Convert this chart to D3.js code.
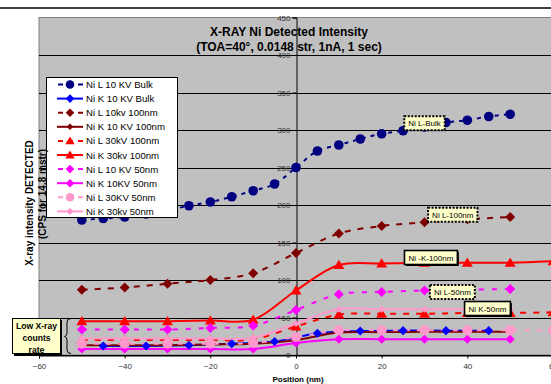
<!DOCTYPE html>
<html>
<head>
<meta charset="utf-8">
<script src="https://cdn.jsdelivr.net/npm/d3@7"></script>
<style>
  html, body { margin: 0; padding: 0; background: #fff; }
  svg { display: block; font-family: Arial, "Liberation Sans", sans-serif; }
</style>
</head>
<body>
<svg id="chart" width="551" height="384"></svg>
<script>
// Positions (nm) at which each profile was sampled
const posStep10 = [-50, -40, -30, -20, -10, 0, 10, 20, 30, 40, 50];
const posStep10Ext = [-50, -40, -30, -20, -10, 0, 10, 20, 30, 40, 50, 60];
const posStep5 = [-50, -45, -40, -35, -30, -25, -20, -15, -10, -5, 0, 5, 10, 15, 20, 25, 30, 35, 40, 45, 50];
const posOffset5 = [-45, -35, -25, -15, -5, 5, 15, 25, 35, 45];

// Detected intensities (CPS)
const niL10kvBulk   = [180, 182, 184, 188, 193, 199, 204, 211, 219, 228, 250, 272, 280, 288, 295, 299, 304, 310, 313, 318, 321];
const niK10kvBulk   = [12, 12, 13, 15, 18, 29, 32, 32.5, 32.5, 32.5];
const niL10kv100nm  = [87, 90, 95, 100, 109, 136, 162, 172, 177, 181, 184];
const niK10kv100nm  = [13, 13, 13, 14, 15, 20, 30, 30.5, 31, 31, 31];
const niL30kv100nm  = [20, 20, 20, 20, 21, 38, 54, 55, 55, 56, 56, 57];
const niK30kv100nm  = [45, 45, 45, 46, 47, 86, 120, 122, 123, 123, 123, 125];
const niL10kv50nm   = [34, 34, 34, 36, 39, 60, 81, 84, 86, 87, 88];
const niK10kv50nm   = [8, 8, 8, 8, 8, 16, 21, 21, 21, 21, 21];
const niL30kv50nm   = [15, 15, 15, 15, 16, 24, 33, 33, 33, 33, 33, 33];
const niK30kv50nm   = [22, 22, 22, 22, 23, 42, 61, 61, 61, 61, 61];

const seriesNames = [
  "Ni L 10 KV Bulk", "Ni K 10 KV Bulk", "Ni L 10kv 100nm", "Ni K 10 KV 100nm",
  "Ni L 30kV 100nm", "Ni K 30kv 100nm", "Ni L 10 KV 50nm", "Ni K 10KV 50nm",
  "Ni L 30KV 50nm", "Ni K 30kv 50nm"
];

const xTicks = [-60, -40, -20, 0, 20, 40, 60];
const yTicks = [0, 50, 100, 150, 200, 250, 300, 350, 400, 450];

const titleLines = ["X-RAY Ni Detected Intensity", "(TOA=40°, 0.0148 str, 1nA, 1 sec)"];
const yTitleLines = ["X-ray intensity DETECTED", "(CPS for 14.8 mstr)"];
const xTitle = "Position (nm)";

// Series styling
const series = [
  { x: posStep5,      y: niL10kvBulk,  color: "#000080", dash: "4,5", marker: "circle",   r: 4.8 },
  { x: posOffset5,    y: niK10kvBulk,  color: "#0000ff", dash: null,  marker: "diamond",  r: 4.6 },
  { x: posStep10,     y: niL10kv100nm, color: "#800000", dash: "6,7", marker: "diamond",  r: 5 },
  { x: posStep10,     y: niK10kv100nm, color: "#800000", dash: null,  marker: "diamond",  r: 3.2 },
  { x: posStep10Ext,  y: niL30kv100nm, color: "#ff0000", dash: "6,7", marker: "triangle", r: 5 },
  { x: posStep10Ext,  y: niK30kv100nm, color: "#ff0000", dash: null,  marker: "triangle", r: 5 },
  { x: posStep10,     y: niL10kv50nm,  color: "#ff00ff", dash: "5,8", marker: "diamond",  r: 5 },
  { x: posStep10,     y: niK10kv50nm,  color: "#ff00ff", dash: null,  marker: "diamond",  r: 4.6 },
  { x: posStep10Ext,  y: niL30kv50nm,  color: "#ff99cc", dash: "5,7", marker: "circle",   r: 5 },
  { x: posStep10,     y: niK30kv50nm,  color: "#ff99cc", dash: null,  marker: "diamond",  r: 3.6 }
].map((s, i) => ({ ...s, name: seriesNames[i], points: s.x.map((xv, j) => [xv, s.y[j]]) }));

const svg = d3.select("#chart");
const W = 551, H = 384;
const plot = { left: 39, right: 553, top: 17.5, bottom: 355 };

const x = d3.scaleLinear().domain([-60, 60]).range([plot.left, plot.right]);
const y = d3.scaleLinear().domain([0, 450]).range([plot.bottom, plot.top]);

function markerPath(type, r) {
  if (type === "circle") return d3.symbol(d3.symbolCircle, Math.PI * r * r)();
  if (type === "diamond") return `M0,${-r}L${r},0L0,${r}L${-r},0Z`;
  return `M0,${-r * 1.05}L${r * 1.1},${r * 0.8}L${-r * 1.1},${r * 0.8}Z`;
}

// page rule at the top
svg.append("line").attr("x1", 0).attr("x2", W).attr("y1", 8).attr("y2", 8)
  .attr("stroke", "#000").attr("stroke-width", 1.5);

// plot area
svg.append("defs").append("clipPath").attr("id", "plotClip")
  .append("rect").attr("x", plot.left).attr("y", plot.top - 6)
  .attr("width", W - plot.left).attr("height", plot.bottom - plot.top + 12);

svg.append("rect").attr("x", plot.left).attr("y", plot.top)
  .attr("width", W - plot.left + 2).attr("height", plot.bottom - plot.top)
  .attr("fill", "#c0c0c0").attr("stroke", "#808080").attr("stroke-width", 1);

// horizontal gridlines
svg.append("g").selectAll("line").data(yTicks.filter(t => t < 450)).join("line")
  .attr("x1", plot.left).attr("x2", W)
  .attr("y1", d => Math.round(y(d)) + 0.5).attr("y2", d => Math.round(y(d)) + 0.5)
  .attr("stroke", "#000").attr("stroke-width", 1);

// y axis drawn at position 0
const yAxis = d3.axisLeft(y).tickValues(yTicks).tickSize(4).tickPadding(2);
const yAxisG = svg.append("g").attr("transform", `translate(${Math.round(x(0)) + 0.5},0)`).call(yAxis);
yAxisG.select(".domain").attr("stroke", "#000");
yAxisG.selectAll(".tick line").attr("stroke", "#000");
yAxisG.selectAll(".tick text").attr("font-size", 8).attr("fill", "#333")
  .attr("font-family", "Arial, 'Liberation Sans', sans-serif");

// x axis along the bottom
const xAxis = d3.axisBottom(x).tickValues(xTicks).tickSize(3).tickPadding(5);
const xAxisG = svg.append("g").attr("transform", `translate(0,${plot.bottom + 0.5})`).call(xAxis);
xAxisG.select(".domain").attr("stroke", "#000");
xAxisG.selectAll(".tick line").attr("stroke", "#000");
xAxisG.selectAll(".tick text").attr("font-size", 8).attr("fill", "#333")
  .attr("font-family", "Arial, 'Liberation Sans', sans-serif");

// series lines, then markers
const line = d3.line().x(d => x(d[0])).y(d => y(d[1])).curve(d3.curveCatmullRom.alpha(0.5));
const gLines = svg.append("g").attr("clip-path", "url(#plotClip)");
gLines.selectAll("path").data(series).join("path")
  .attr("d", d => line(d.points))
  .attr("fill", "none")
  .attr("stroke", d => d.color)
  .attr("stroke-width", 2)
  .attr("stroke-dasharray", d => d.dash);

const gMarks = svg.append("g").attr("clip-path", "url(#plotClip)");
series.forEach(s => {
  gMarks.append("g").selectAll("path").data(s.points).join("path")
    .attr("transform", d => `translate(${x(d[0])},${y(d[1])})`)
    .attr("d", markerPath(s.marker, s.r))
    .attr("fill", s.color);
});

// title
svg.append("g").selectAll("text").data(titleLines).join("text")
  .attr("x", 289).attr("y", (d, i) => 36 + i * 15)
  .attr("text-anchor", "middle").attr("font-size", 12).attr("font-weight", "bold")
  .text(d => d);

// x title
svg.append("text").attr("x", 298).attr("y", 382).attr("text-anchor", "middle")
  .attr("font-size", 8).attr("font-weight", "bold").text(xTitle);

// legend
const legend = svg.append("g");
legend.append("rect").attr("x", 46.5).attr("y", 77.5).attr("width", 131).attr("height", 140)
  .attr("fill", "#fff").attr("stroke", "#000").attr("stroke-width", 1);
series.forEach((s, i) => {
  const ly = 84.5 + i * 14.1;
  legend.append("line").attr("x1", 57).attr("x2", 83).attr("y1", ly).attr("y2", ly)
    .attr("stroke", s.color).attr("stroke-width", 2)
    .attr("stroke-dasharray", s.dash ? "5,5" : null)
    .attr("stroke-dashoffset", s.dash ? -1 : null);
  legend.append("path").attr("transform", `translate(70,${ly})`)
    .attr("d", markerPath(s.marker, Math.min(s.r, 4.3))).attr("fill", s.color);
  legend.append("text").attr("x", 86).attr("y", ly + 3.5).attr("font-size", 9.6).text(s.name);
});

// y title (on top of the legend edge)
svg.append("g").selectAll("text").data(yTitleLines).join("text")
  .attr("transform", (d, i) => `translate(${32.5 + i * 13.5},${i === 0 ? 203 : 194}) rotate(-90)`)
  .attr("text-anchor", "middle").attr("font-size", 10).attr("font-weight", "bold")
  .text(d => d);

// series call-outs
const callouts = [
  { text: "Ni L-Bulk",   cx: 30,   cy: 309, border: "dotted" },
  { text: "Ni L-100nm",  cx: 36.6, cy: 187, border: "dotted" },
  { text: "Ni -K-100nm", cx: 31.5, cy: 130, border: "solid" },
  { text: "Ni L-50nm",   cx: 36.5, cy: 84,  border: "dotted" },
  { text: "Ni K-50nm",   cx: 44.7, cy: 62,  border: "solid" }
];
callouts.forEach(c => {
  const g = svg.append("g").attr("transform", `translate(${x(c.cx)},${y(c.cy)})`);
  const t = g.append("text").attr("text-anchor", "middle").attr("y", 3).attr("font-size", 8).text(c.text);
  const w = t.node().getComputedTextLength() + 8, h = 14;
  if (c.border === "solid") {
    g.insert("rect", "text").attr("x", -w / 2 + 1.5).attr("y", -h / 2 + 1.5).attr("width", w).attr("height", h).attr("fill", "#000");
    g.insert("rect", "text").attr("x", -w / 2).attr("y", -h / 2).attr("width", w).attr("height", h)
      .attr("fill", "#ffffcc").attr("stroke", "#000").attr("stroke-width", 1.6);
  } else {
    g.insert("rect", "text").attr("x", -w / 2).attr("y", -h / 2).attr("width", w).attr("height", h)
      .attr("fill", "#ffffcc").attr("stroke", "#000").attr("stroke-width", 2).attr("stroke-dasharray", "2,1.5");
  }
});

// low count-rate note and brace
const note = svg.append("g");
note.append("rect").attr("x", 14).attr("y", 320).attr("width", 48).attr("height", 36).attr("fill", "#000");
note.append("rect").attr("x", 12.5).attr("y", 318.5).attr("width", 48).attr("height", 35)
  .attr("fill", "#ffffcc").attr("stroke", "#000").attr("stroke-width", 1);
note.selectAll("text").data(["Low X-ray", "counts", "rate"]).join("text")
  .attr("x", 36.5).attr("y", (d, i) => 328.5 + i * 12.2).attr("text-anchor", "middle")
  .attr("font-size", 8.6).attr("font-weight", "bold").text(d => d);
note.append("path")
  .attr("d", "M71,318.5 Q67,318.5 67,322 L67,333 Q67,336 64.5,336.5 Q67,337 67,340 L67,350 Q67,353.5 71,353.5")
  .attr("fill", "none").attr("stroke", "#000").attr("stroke-width", 1);
</script>
</body>
</html>
